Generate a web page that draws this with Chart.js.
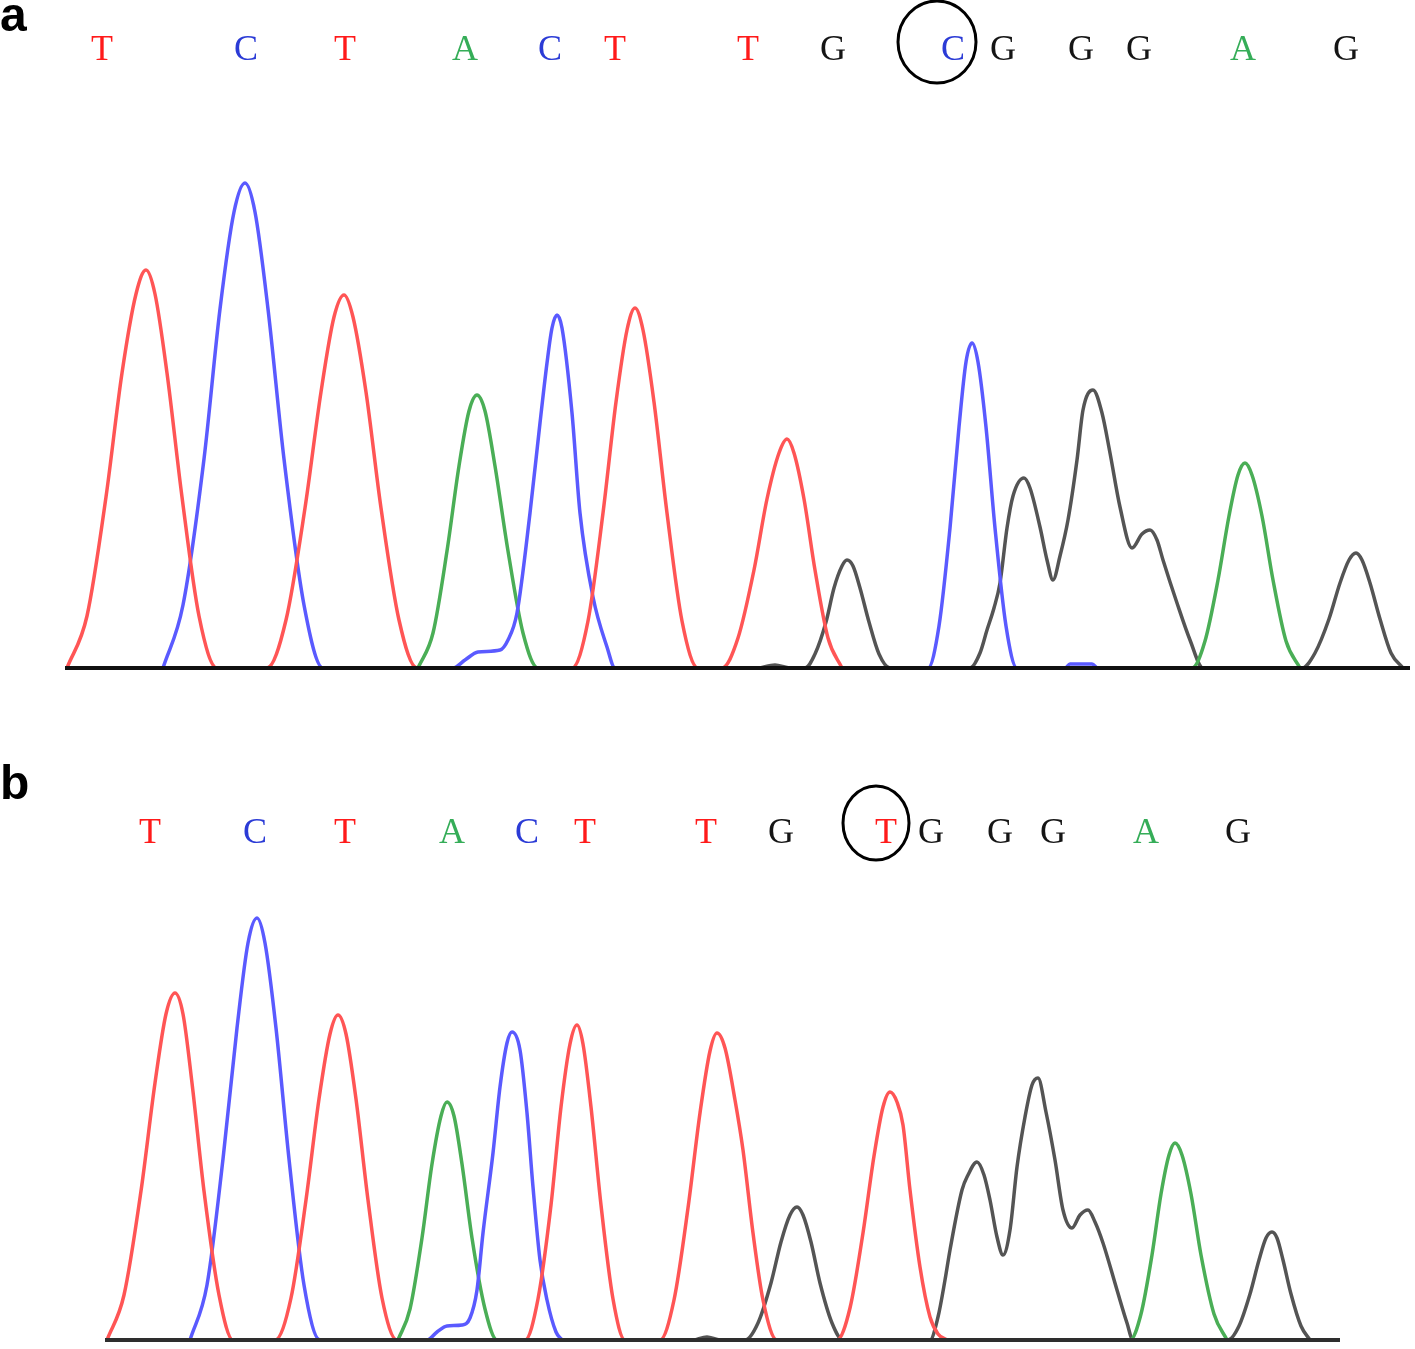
<!DOCTYPE html>
<html lang="en">

<head>
    <meta charset="UTF-8">
    <title>Sequencing chromatograms a / b</title>
    <script src="https://cdn.jsdelivr.net/npm/chart.js"></script>
    <style>
        body { margin: 0; background: #fff; }
        .panel { position: absolute; left: 0; width: 1415px; }
    </style>
</head>

<body>
<div class="panel" style="top: 0px; height: 700px;"><canvas id="chartA" width="1415" height="700"></canvas></div>
<div class="panel" style="top: 700px; height: 649px;"><canvas id="chartB" width="1415" height="649"></canvas></div>

<script>
    // base calls (same read, wild type vs mutant at position 9)
    const basesA = ['T', 'C', 'T', 'A', 'C', 'T', 'T', 'G', 'C', 'G', 'G', 'G', 'A', 'G'];
    const basesB = ['T', 'C', 'T', 'A', 'C', 'T', 'T', 'G', 'T', 'G', 'G', 'G', 'A', 'G'];
    const basePosA = [102, 246, 345, 465, 550, 615, 748, 833, 953, 1003, 1081, 1139, 1243, 1346];
    const basePosB = [150, 255, 345, 452, 527, 585, 706, 781, 886, 931, 1000, 1053, 1146, 1238];

    // panel a traces: [scan position, signal]
    const traceA_T = [[67,0],[87,52],[106,171],[122,295],[136,374],[146,398],[155,374],[167,295],[182,171],[199,52],[217,0],
        [267,0],[286,48],[305,160],[321,276],[334,351],[344,373],[353,351],[366,276],[381,160],[399,48],[417,0],
        [572,0],[588,47],[603,155],[616,266],[627,338],[635,360],[643,338],[654,266],[667,155],[682,47],[698,0],
        [722,0],[738,30],[754,98],[767,169],[779,215],[787,229],[794,215],[804,169],[815,98],[828,30],[842,0]];
    const traceA_C = [[163,0],[183,63],[204,209],[220,359],[234,456],[245,485],[255,456],[268,359],[284,209],[304,63],[323,0],
        [453,0],[465,8],[478,16],[500,18],[508,28],[517,55],[530,155],[540,245],[547,305],[552,340],[557,353],[562,340],[572,255],[580,155],[593,71],[607,21],[615,0],
        [928,0],[939,42],[950,140],[959,241],[966,306],[972,325],[978,306],[986,241],[995,140],[1006,42],[1017,0],
        [1065,0],[1070,4],[1092,4],[1097,0]];
    const traceA_A = [[418,0],[433,35],[447,117],[459,202],[469,257],[477,273],[485,257],[495,202],[508,117],[523,35],[538,0],
        [1192,0],[1205,27],[1218,88],[1229,152],[1238,193],[1245,205],[1252,193],[1262,152],[1273,88],[1286,27],[1300,0]];
    const traceA_G = [[760,0],[775,3],[790,0],
        [805,0],[815,14],[826,46],[834,80],[842,102],[847,108],[853,102],[860,80],[869,46],[879,14],[890,0],
        [970,0],[980,15],[987,38],[994,60],[1000,85],[1007,140],[1013,172],[1024,190],[1030,180],[1040,141],[1047,108],[1053,88],
        [1060,112],[1068,148],[1077,208],[1083,258],[1093,278],[1102,255],[1110,215],[1120,161],[1132,120],[1142,134],[1150,138],
        [1157,128],[1163,108],[1177,65],[1190,28],[1203,0],
        [1302,0],[1315,15],[1329,49],[1340,85],[1349,108],[1356,115],[1362,108],[1370,85],[1380,49],[1391,15],[1403,0]];

    // panel b traces
    const traceB_T = [[107,0],[124,45],[141,149],[155,257],[166,326],[175,347],[183,326],[192,257],[204,149],[219,45],[233,0],
        [275,0],[291,42],[306,140],[319,241],[330,306],[338,325],[346,306],[356,241],[368,140],[382,42],[397,0],
        [525,0],[538,41],[551,135],[561,233],[570,296],[577,315],[583,296],[591,233],[601,135],[613,41],[625,0],
        [660,0],[674,40],[688,132],[700,227],[710,289],[717,307],[725,292],[735,240],[743,190],[753,107],[763,40],[777,0],
        [837,0],[850,32],[863,107],[874,184],[883,233],[890,248],[897,238],[903,215],[910,150],[920,73],[930,23],[938,6],[947,0]];
    const traceB_C = [[190,0],[207,55],[223,181],[237,312],[248,397],[257,422],[265,397],[276,312],[289,181],[304,55],[320,0],
        [427,0],[437,8],[447,14],[462,15],[470,22],[477,50],[483,107],[493,187],[500,253],[507,297],[512,308],[520,290],[527,227],
        [533,153],[540,80],[547,40],[556,8],[562,0]];
    const traceB_A = [[398,0],[410,31],[422,102],[432,176],[441,224],[447,238],[454,224],[462,176],[472,102],[485,31],[497,0],
        [1130,0],[1141,26],[1152,85],[1161,146],[1169,185],[1175,197],[1182,185],[1191,146],[1201,85],[1214,26],[1227,0]];
    const traceB_G = [[695,0],[707,3],[720,0],
        [745,0],[758,17],[771,57],[781,98],[790,125],[797,133],[803,125],[811,98],[820,57],[832,17],[843,0],
        [930,0],[938,23],[945,60],[950,90],[962,150],[968,165],[977,178],[984,165],[990,140],[997,103],[1003,85],[1010,110],
        [1017,173],[1025,223],[1032,255],[1038,262],[1046,228],[1055,180],[1063,130],[1072,112],[1080,125],[1088,130],[1095,118],
        [1103,97],[1117,50],[1127,17],[1133,0],
        [1228,0],[1239,14],[1250,46],[1259,80],[1266,102],[1272,108],[1277,102],[1283,80],[1291,46],[1301,14],[1310,0]];

    const traceColors = { T: '#ff5555', C: '#5a5aff', A: '#4aae56', G: '#545454' };
    const letterColors = { T: '#ff1a1a', C: '#2b3bd6', A: '#35ad58', G: '#151515' };

    function toXY(pairs) {
        return pairs.map(p => ({ x: p[0], y: p[1] }));
    }

    function traceSet(base, pairs) {
        return {
            label: base,
            data: toXY(pairs),
            borderColor: traceColors[base],
            borderWidth: 3.5,
            pointRadius: 0,
            cubicInterpolationMode: 'monotone',
            order: 1
        };
    }

    // base letters, circled call and panel letter
    function callsPlugin(cfg) {
        return {
            id: 'calls',
            afterDatasetsDraw(chart) {
                const ctx = chart.ctx;
                const xs = chart.scales.x;
                ctx.save();
                ctx.font = 'bold 48px "Liberation Sans", Arial, sans-serif';
                ctx.fillStyle = '#000';
                ctx.textAlign = 'left';
                ctx.fillText(cfg.panel, 0, cfg.panelY);

                ctx.font = '36px "Liberation Serif", "Times New Roman", serif';
                ctx.textAlign = 'center';
                cfg.bases.forEach((b, i) => {
                    ctx.fillStyle = letterColors[b];
                    ctx.fillText(b, xs.getPixelForValue(cfg.pos[i]), cfg.letterY);
                });

                ctx.strokeStyle = '#000';
                ctx.lineWidth = 3;
                ctx.beginPath();
                ctx.ellipse(xs.getPixelForValue(cfg.circle.x), cfg.circle.y, cfg.circle.rx, cfg.circle.ry, 0, 0, Math.PI * 2);
                ctx.stroke();
                ctx.restore();
            }
        };
    }

    function makeChart(id, traces, axisFrom, axisTo, yMin, yMax, cfg) {
        const datasets = [
            traceSet('T', traces.T),
            traceSet('C', traces.C),
            traceSet('A', traces.A),
            traceSet('G', traces.G),
            {
                label: 'baseline',
                data: [{ x: axisFrom, y: 0 }, { x: axisTo, y: 0 }],
                borderColor: cfg.axisColor,
                borderWidth: 4,
                pointRadius: 0,
                order: 0
            }
        ];
        return new Chart(document.getElementById(id), {
            type: 'line',
            data: { datasets: datasets },
            options: {
                responsive: false,
                animation: false,
                layout: { padding: 0 },
                scales: {
                    x: { type: 'linear', min: 0, max: 1415, display: false },
                    y: { min: yMin, max: yMax, display: false }
                },
                plugins: {
                    legend: { display: false },
                    tooltip: { enabled: false }
                }
            },
            plugins: [callsPlugin(cfg)]
        });
    }

    makeChart('chartA', { T: traceA_T, C: traceA_C, A: traceA_A, G: traceA_G }, 65, 1410, -32, 668, {
        panel: 'a', panelY: 31, bases: basesA, pos: basePosA, letterY: 60,
        circle: { x: 937, y: 42, rx: 39, ry: 41 }, axisColor: '#111'
    });

    makeChart('chartB', { T: traceB_T, C: traceB_C, A: traceB_A, G: traceB_G }, 105, 1340, -9, 640, {
        panel: 'b', panelY: 99, bases: basesB, pos: basePosB, letterY: 143,
        circle: { x: 876, y: 123, rx: 33, ry: 37 }, axisColor: '#2e2e2e'
    });
</script>
</body>

</html>
